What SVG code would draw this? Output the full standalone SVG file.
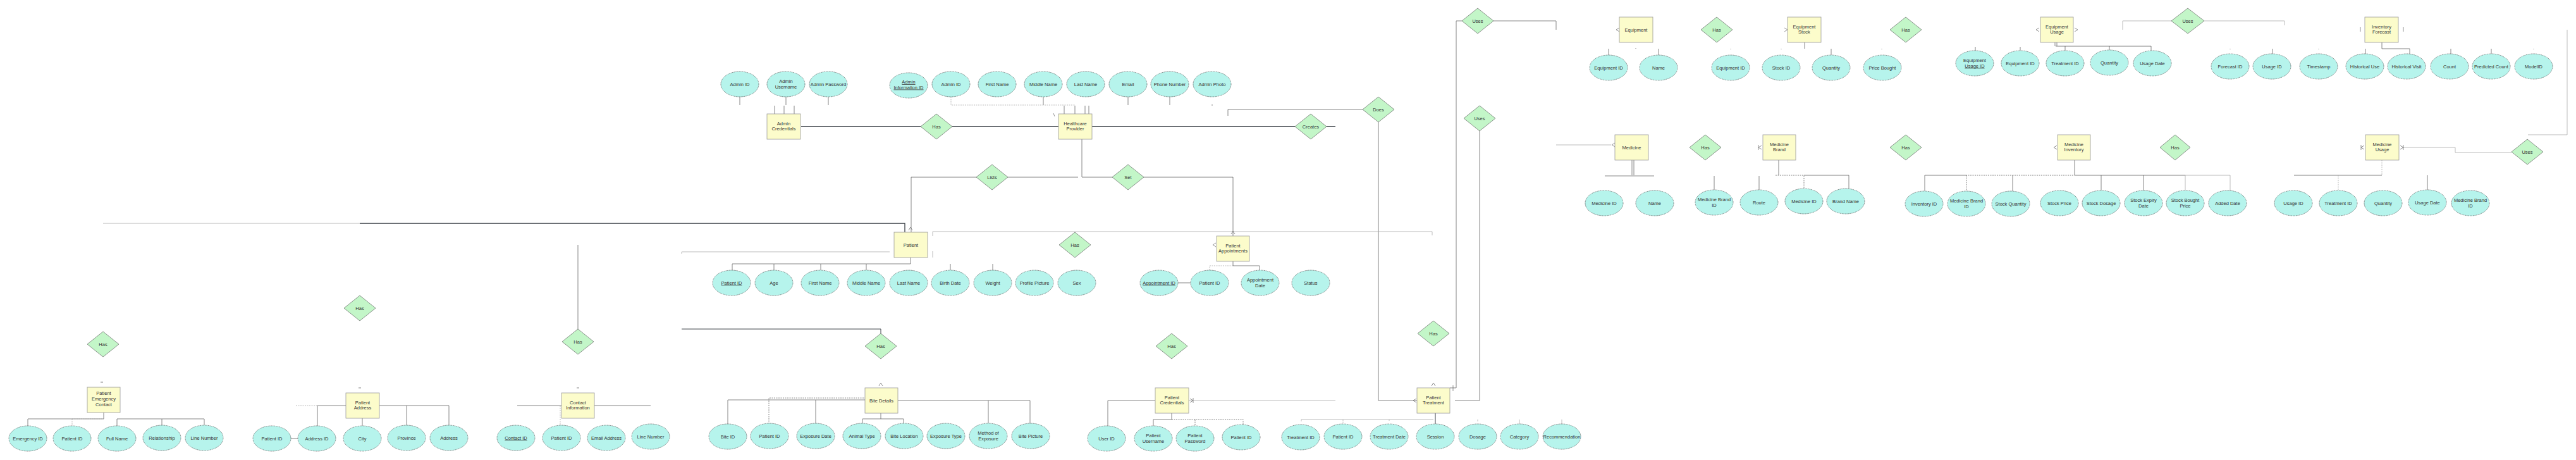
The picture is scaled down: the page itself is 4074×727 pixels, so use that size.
<svg xmlns="http://www.w3.org/2000/svg" width="4074" height="727" viewBox="0 0 4074 727">
<style>
text{font-family:"Liberation Sans",Arial,sans-serif;font-size:7.5px;fill:#333;text-anchor:middle}
.attr ellipse{fill:#b6f4ec;stroke:#555;stroke-width:0.7;stroke-dasharray:1.6 1}
.ent rect{fill:#fcfccb;stroke:#999;stroke-width:0.8}
.rel polygon{fill:#c3f6c8;stroke:#666;stroke-width:0.7}
.ul{text-decoration:underline}
.ln{stroke:#666;stroke-width:0.8;fill:none}
.lnl{stroke:#aaa;stroke-width:0.8;fill:none}
.lnd{stroke:#3d4248;stroke-width:1.3;fill:none}
.ds{stroke-dasharray:2 1.5}
.mk{stroke:#666;stroke-width:0.7;fill:none}
</style>
<rect width="4074" height="727" fill="#fff"/>

<g id="connectors">
<!-- Admin / Healthcare provider -->
<path class="lnd" d="M1267 200H1456M1506 200H1674M1727 200H2048M2098 200H2112"/>
<path class="ln" d="M1170 153V166M1243 153V166M1310 153V166M1650 153V166M1784 153V166M1850 153V166M1917 165V167"/>
<path class="lnl ds" d="M1504 153V166H1700"/>
<path class="ln" d="M1225 167V180M1240 167V180M1256 167V180M1683 167V180M1700 167V180M1716 167V180M1722 167V180"/>
<path class="ln" d="M1711 220V280H1759M1594 280H1705M1544 280H1441V367M1809 280H1950V373"/>
<path class="ln" d="M2155 173H1942V183M2180 193V633H2241"/>
<path class="ln" d="M2312 33H2303V613H2293M2362 33H2461V47"/>
<path class="ln" d="M2340 207V633H2301"/>
<path class="lnl" d="M2461 229H2548"/>
<!-- patient area -->
<path class="lnl" d="M163 353H569"/>
<path class="lnd" d="M569 353H1431V367"/>
<path class="lnl" d="M1078 401V398H1407"/>
<path class="lnd" style="stroke-width:1" d="M1078 520H1393V528"/>
<path class="ln" d="M914 387V521"/>
<path class="lnl" d="M1475 373V366H2265V372M1475 397V407"/>
<path class="ln" d="M1440 407V417H1158M1158 417V427M1224 417V427M1298 417V427M1370 417V427M1503 417V427M1570 417V427"/>
<path class="ln" d="M1950 413V420H1992V427M1863 447H1883"/>
<path class="lnl ds" d="M1950 420H1913V427"/>
<!-- bottom entities -->
<path class="ln" d="M164 652V662H44V673M185 662V673M256 662V673M323 662H185M323 662V673"/>
<path class="lnl ds" d="M114 662H164M114 662V673"/>
<path class="lnl ds" d="M468 641H502"/>
<path class="ln" d="M502 641H547M502 641V673M573 660V673M600 641H710M643 641V673M710 641V673M460 693H471"/>
<path class="ln" d="M818 641H888M940 641H1029"/>
<path class="lnl ds" d="M886 641V672"/>
<path class="ln" d="M1151 670V632H1368M1290 632V670M1420 633H1629M1563 633V670M1629 633V670M1393 653V662M1364 662H1429M1364 662V670M1429 662V670"/>
<path class="ln ds" d="M1216 670V629H1368"/>
<path class="ln" d="M1827 633H1752V673M1853 653V663H1824V673"/>
<path class="ln ds" d="M1853 663H1966V673M1890 663V673"/>
<path class="lnl" d="M1880 633H2112"/>
<path class="lnd" style="stroke-width:1" d="M2270 653V670"/>
<path class="lnl" d="M2058 663H2267M2058 663V666M2197 663V665M2337 663V666M2403 663V670M2470 663V670"/>
<path class="lnl ds" d="M2124 663V670"/>
<path class="ln" d="M159 604H163M567 613H571M912 613H916"/>
<!-- equipment -->
<path class="ln" d="M2544 77V87M2623 77V87M2587 76V77"/>
<path class="ln" d="M2854 67V77M2896 77V87M2737 77V78M2817 77V78M2976 77V78"/>
<path class="ln" d="M3250 67V73M3253 67V73M3251 73H3402V80M3266 73V80M3336 73V80M3124 74V80M3195 74V80"/>
<path class="lnl" d="M3357 47V33H3434M3486 33H3613V40"/>
<path class="ln" d="M3767 67V77H3811V86M3594 77V86M3741 77V86M3876 77V86M3940 77V86M3527 77V78M3667 77V78M4007 77V78"/>
<!-- medicine -->
<path class="ln" d="M2581 253V277M2584 253V277M2538 278H2616"/>
<path class="ln" d="M2813 253V277M2853 277H2924V298M2711 278V300M2782 278V300"/>
<path class="ln ds" d="M2808 277H2853V298"/>
<path class="ln" d="M3281 253V277M3044 277H3109M3044 277V302M3183 277V302M3281 277H3456M3323 277V302M3390 277V302"/>
<path class="lnl" d="M3456 277H3527V302M3456 277V302"/>
<path class="ln ds" d="M3109 277H3281M3110 277V302"/>
<path class="ln" d="M3628 277H3767M3839 277V300"/>
<path class="lnl ds" d="M3767 253V277M3698 277V301"/>
<path class="lnl" d="M3799 233H3883V241H3972M3998 213H4060V47"/>
<!-- markers -->
<path class="mk" d="M1437 364L1440 359L1443 364M1947 370L1950 365L1953 370M1923 384L1918 387L1923 390M2561 44L2556 47L2561 50M2554 226L2549 229L2554 232M2822 44L2827 47L2822 50M3225 44L3220 47L3225 50M3281 44L3286 47L3281 50M3733 43V50M3801 43V50M3253 230L3248 233L3253 236M2786 230L2781 233L2786 236M2781 229V237M3739 230L3734 233L3739 236M3734 229V237M3796 230L3801 233L3796 236M3801 229V237M1882 630L1887 633L1882 636M1887 629V637M2240 630L2235 633L2240 636M2298 609V618M1390 610L1393 605L1396 610M2264 610L2267 605L2270 610M1666 179L1668 184"/>
</g>

<g id="relationships">
<g id="r-has-admin" class="rel"><polygon points="1481,180 1506,200 1481,220 1456,200"/><text x="1481" y="202.5">Has</text></g>
<g id="r-creates" class="rel"><polygon points="2073,180 2098,200 2073,220 2048,200"/><text x="2073" y="202.5">Creates</text></g>
<g id="r-does" class="rel"><polygon points="2180,153 2205,173 2180,193 2155,173"/><text x="2180" y="175.5">Does</text></g>
<g id="r-uses1" class="rel"><polygon points="2337,13 2362,33 2337,53 2312,33"/><text x="2337" y="35.5">Uses</text></g>
<g id="r-uses2" class="rel"><polygon points="2340,167 2365,187 2340,207 2315,187"/><text x="2340" y="189.5">Uses</text></g>
<g id="r-lists" class="rel"><polygon points="1569,260 1594,280 1569,300 1544,280"/><text x="1569" y="282.5">Lists</text></g>
<g id="r-set" class="rel"><polygon points="1784,260 1809,280 1784,300 1759,280"/><text x="1784" y="282.5">Set</text></g>
<g id="r-has-pat" class="rel"><polygon points="1700,367 1725,387 1700,407 1675,387"/><text x="1700" y="389.5">Has</text></g>
<g id="r-has-treat" class="rel"><polygon points="2267,507 2292,527 2267,547 2242,527"/><text x="2267" y="529.5">Has</text></g>
<g id="r-has-cred" class="rel"><polygon points="1853,527 1878,547 1853,567 1828,547"/><text x="1853" y="549.5">Has</text></g>
<g id="r-has-bite" class="rel"><polygon points="1393,527 1418,547 1393,567 1368,547"/><text x="1393" y="549.5">Has</text></g>
<g id="r-has-emerg" class="rel"><polygon points="163,524 188,544 163,564 138,544"/><text x="163" y="546.5">Has</text></g>
<g id="r-has-addr" class="rel"><polygon points="569,467 594,487 569,507 544,487"/><text x="569" y="489.5">Has</text></g>
<g id="r-has-contact" class="rel"><polygon points="914,520 939,540 914,560 889,540"/><text x="914" y="542.5">Has</text></g>
<g id="r-has-eq" class="rel"><polygon points="2715,27 2740,47 2715,67 2690,47"/><text x="2715" y="49.5">Has</text></g>
<g id="r-has-eqs" class="rel"><polygon points="3014,27 3039,47 3014,67 2989,47"/><text x="3014" y="49.5">Has</text></g>
<g id="r-uses3" class="rel"><polygon points="3460,13 3486,33 3460,53 3434,33"/><text x="3460" y="35.5">Uses</text></g>
<g id="r-has-med" class="rel"><polygon points="2697,213 2722,233 2697,253 2672,233"/><text x="2697" y="235.5">Has</text></g>
<g id="r-has-brand" class="rel"><polygon points="3014,213 3039,233 3014,253 2989,233"/><text x="3014" y="235.5">Has</text></g>
<g id="r-has-inv" class="rel"><polygon points="3440,213 3464,233 3440,253 3416,233"/><text x="3440" y="235.5">Has</text></g>
<g id="r-uses4" class="rel"><polygon points="3997,220 4022,240 3997,260 3972,240"/><text x="3997" y="242.5">Uses</text></g>
</g>

<g id="entities">
<g id="e-admin-cred" class="ent"><rect x="1213" y="180" width="53" height="40"/><text x="1239.5" y="197.5">Admin</text><text x="1239.5" y="206">Credentials</text></g>
<g id="e-healthcare" class="ent"><rect x="1674" y="180" width="53" height="40"/><text x="1700.5" y="197.5">Healthcare</text><text x="1700.5" y="206">Provider</text></g>
<g id="e-patient" class="ent"><rect x="1414" y="367" width="53" height="40"/><text x="1440.5" y="389.5">Patient</text></g>
<g id="e-appointments" class="ent"><rect x="1924" y="373" width="52" height="40"/><text x="1950" y="390.5">Patient</text><text x="1950" y="399">Appointments</text></g>
<g id="e-emergency" class="ent"><rect x="138" y="612" width="52" height="40"/><text x="164" y="624">Patient</text><text x="164" y="633">Emergency</text><text x="164" y="642">Contact</text></g>
<g id="e-address" class="ent"><rect x="547" y="621" width="53" height="40"/><text x="573.5" y="638.5">Patient</text><text x="573.5" y="647">Address</text></g>
<g id="e-contact" class="ent"><rect x="888" y="621" width="52" height="40"/><text x="914" y="638.5">Contact</text><text x="914" y="647">Information</text></g>
<g id="e-bite" class="ent"><rect x="1368" y="613" width="52" height="40"/><text x="1394" y="635.5">Bite Details</text></g>
<g id="e-pcred" class="ent"><rect x="1827" y="613" width="53" height="40"/><text x="1853.5" y="630.5">Patient</text><text x="1853.5" y="639">Credentials</text></g>
<g id="e-treatment" class="ent"><rect x="2241" y="613" width="52" height="40"/><text x="2267" y="630.5">Patient</text><text x="2267" y="639">Treatment</text></g>
<g id="e-equipment" class="ent"><rect x="2561" y="27" width="53" height="40"/><text x="2587.5" y="49.5">Equipment</text></g>
<g id="e-medicine" class="ent"><rect x="2554" y="213" width="53" height="40"/><text x="2580.5" y="235.5">Medicine</text></g>
<g id="e-eqstock" class="ent"><rect x="2827" y="27" width="53" height="40"/><text x="2853.5" y="44.5">Equipment</text><text x="2853.5" y="53">Stock</text></g>
<g id="e-equsage" class="ent"><rect x="3227" y="27" width="52" height="40"/><text x="3253" y="44.5">Equipment</text><text x="3253" y="53">Usage</text></g>
<g id="e-forecast" class="ent"><rect x="3740" y="27" width="53" height="40"/><text x="3766.5" y="44.5">Inventory</text><text x="3766.5" y="53">Forecast</text></g>
<g id="e-brand" class="ent"><rect x="2788" y="213" width="52" height="40"/><text x="2814" y="230.5">Medicine</text><text x="2814" y="239">Brand</text></g>
<g id="e-inventory" class="ent"><rect x="3254" y="213" width="52" height="40"/><text x="3280" y="230.5">Medicine</text><text x="3280" y="239">Inventory</text></g>
<g id="e-medusage" class="ent"><rect x="3741" y="213" width="53" height="40"/><text x="3767.5" y="230.5">Medicine</text><text x="3767.5" y="239">Usage</text></g>
</g>

<g id="attributes">
<!-- admin credentials -->
<g id="a-ac-id" class="attr"><ellipse cx="1170" cy="133" rx="30" ry="20"/><text x="1170" y="135.5">Admin ID</text></g>
<g id="a-ac-user" class="attr"><ellipse cx="1243" cy="133" rx="30" ry="20"/><text x="1243" y="131">Admin</text><text x="1243" y="139.5">Username</text></g>
<g id="a-ac-pass" class="attr"><ellipse cx="1310" cy="133" rx="30" ry="20"/><text x="1310" y="135.5">Admin Password</text></g>
<!-- healthcare provider -->
<g id="a-hp-infoid" class="attr"><ellipse cx="1437" cy="135" rx="30" ry="20"/><text class="ul" x="1437" y="132">Admin</text><text class="ul" x="1437" y="140.5">Information ID</text></g>
<g id="a-hp-adminid" class="attr"><ellipse cx="1504" cy="133" rx="30" ry="20"/><text x="1504" y="135.5">Admin ID</text></g>
<g id="a-hp-first" class="attr"><ellipse cx="1577" cy="133" rx="30" ry="20"/><text x="1577" y="135.5">First Name</text></g>
<g id="a-hp-middle" class="attr"><ellipse cx="1650" cy="133" rx="30" ry="20"/><text x="1650" y="135.5">Middle Name</text></g>
<g id="a-hp-last" class="attr"><ellipse cx="1717" cy="133" rx="30" ry="20"/><text x="1717" y="135.5">Last Name</text></g>
<g id="a-hp-email" class="attr"><ellipse cx="1784" cy="133" rx="30" ry="20"/><text x="1784" y="135.5">Email</text></g>
<g id="a-hp-phone" class="attr"><ellipse cx="1850" cy="133" rx="30" ry="20"/><text x="1850" y="135.5">Phone Number</text></g>
<g id="a-hp-photo" class="attr"><ellipse cx="1917" cy="133" rx="30" ry="20"/><text x="1917" y="135.5">Admin Photo</text></g>
<!-- equipment -->
<g id="a-eq-id" class="attr"><ellipse cx="2544" cy="107" rx="30" ry="20"/><text x="2544" y="109.5">Equipment ID</text></g>
<g id="a-eq-name" class="attr"><ellipse cx="2623" cy="107" rx="30" ry="20"/><text x="2623" y="109.5">Name</text></g>
<!-- equipment stock -->
<g id="a-es-eqid" class="attr"><ellipse cx="2737" cy="107" rx="30" ry="20"/><text x="2737" y="109.5">Equipment ID</text></g>
<g id="a-es-stock" class="attr"><ellipse cx="2817" cy="107" rx="30" ry="20"/><text x="2817" y="109.5">Stock ID</text></g>
<g id="a-es-qty" class="attr"><ellipse cx="2896" cy="107" rx="30" ry="20"/><text x="2896" y="109.5">Quantity</text></g>
<g id="a-es-price" class="attr"><ellipse cx="2977" cy="107" rx="30" ry="20"/><text x="2977" y="109.5">Price Bought</text></g>
<!-- equipment usage -->
<g id="a-eu-id" class="attr"><ellipse cx="3123" cy="100" rx="30" ry="20"/><text x="3123" y="98">Equipment</text><text class="ul" x="3123" y="106.5">Usage ID</text></g>
<g id="a-eu-eqid" class="attr"><ellipse cx="3195" cy="100" rx="30" ry="20"/><text x="3195" y="102.5">Equipment ID</text></g>
<g id="a-eu-treat" class="attr"><ellipse cx="3266" cy="100" rx="30" ry="20"/><text x="3266" y="102.5">Treatment ID</text></g>
<g id="a-eu-qty" class="attr"><ellipse cx="3336" cy="99" rx="30" ry="20"/><text x="3336" y="101.5">Quantity</text></g>
<g id="a-eu-date" class="attr"><ellipse cx="3404" cy="100" rx="30" ry="20"/><text x="3404" y="102.5">Usage Date</text></g>
<!-- inventory forecast -->
<g id="a-if-id" class="attr"><ellipse cx="3527" cy="105" rx="30" ry="20"/><text x="3527" y="107.5">Forecast ID</text></g>
<g id="a-if-usage" class="attr"><ellipse cx="3593" cy="105" rx="30" ry="20"/><text x="3593" y="107.5">Usage ID</text></g>
<g id="a-if-ts" class="attr"><ellipse cx="3667" cy="105" rx="30" ry="20"/><text x="3667" y="107.5">Timestamp</text></g>
<g id="a-if-huse" class="attr"><ellipse cx="3740" cy="105" rx="30" ry="20"/><text x="3740" y="107.5">Historical Use</text></g>
<g id="a-if-hvisit" class="attr"><ellipse cx="3806" cy="105" rx="30" ry="20"/><text x="3806" y="107.5">Historical Visit</text></g>
<g id="a-if-count" class="attr"><ellipse cx="3874" cy="105" rx="30" ry="20"/><text x="3874" y="107.5">Count</text></g>
<g id="a-if-pred" class="attr"><ellipse cx="3940" cy="105" rx="30" ry="20"/><text x="3940" y="107.5">Predicted Count</text></g>
<g id="a-if-model" class="attr"><ellipse cx="4007" cy="105" rx="30" ry="20"/><text x="4007" y="107.5">ModelID</text></g>
<!-- medicine -->
<g id="a-m-id" class="attr"><ellipse cx="2537" cy="321" rx="30" ry="20"/><text x="2537" y="323.5">Medicine ID</text></g>
<g id="a-m-name" class="attr"><ellipse cx="2617" cy="321" rx="30" ry="20"/><text x="2617" y="323.5">Name</text></g>
<!-- medicine brand -->
<g id="a-mb-id" class="attr"><ellipse cx="2711" cy="320" rx="30" ry="20"/><text x="2711" y="318">Medicine Brand</text><text x="2711" y="326.5">ID</text></g>
<g id="a-mb-route" class="attr"><ellipse cx="2782" cy="320" rx="30" ry="20"/><text x="2782" y="322.5">Route</text></g>
<g id="a-mb-medid" class="attr"><ellipse cx="2853" cy="318" rx="30" ry="20"/><text x="2853" y="320.5">Medicine ID</text></g>
<g id="a-mb-name" class="attr"><ellipse cx="2919" cy="318" rx="30" ry="20"/><text x="2919" y="320.5">Brand Name</text></g>
<!-- medicine inventory -->
<g id="a-mi-id" class="attr"><ellipse cx="3043" cy="322" rx="30" ry="20"/><text x="3043" y="324.5">Inventory ID</text></g>
<g id="a-mi-brand" class="attr"><ellipse cx="3110" cy="322" rx="30" ry="20"/><text x="3110" y="320">Medicine Brand</text><text x="3110" y="328.5">ID</text></g>
<g id="a-mi-qty" class="attr"><ellipse cx="3180" cy="322" rx="30" ry="20"/><text x="3180" y="324.5">Stock Quantity</text></g>
<g id="a-mi-price" class="attr"><ellipse cx="3257" cy="321" rx="30" ry="20"/><text x="3257" y="323.5">Stock Price</text></g>
<g id="a-mi-dosage" class="attr"><ellipse cx="3323" cy="321" rx="30" ry="20"/><text x="3323" y="323.5">Stock Dosage</text></g>
<g id="a-mi-expiry" class="attr"><ellipse cx="3390" cy="321" rx="30" ry="20"/><text x="3390" y="319">Stock Expiry</text><text x="3390" y="327.5">Date</text></g>
<g id="a-mi-bought" class="attr"><ellipse cx="3456" cy="321" rx="30" ry="20"/><text x="3456" y="319">Stock Bought</text><text x="3456" y="327.5">Price</text></g>
<g id="a-mi-added" class="attr"><ellipse cx="3523" cy="321" rx="30" ry="20"/><text x="3523" y="323.5">Added Date</text></g>
<!-- medicine usage -->
<g id="a-mu-id" class="attr"><ellipse cx="3627" cy="321" rx="30" ry="20"/><text x="3627" y="323.5">Usage ID</text></g>
<g id="a-mu-treat" class="attr"><ellipse cx="3698" cy="321" rx="30" ry="20"/><text x="3698" y="323.5">Treatment ID</text></g>
<g id="a-mu-qty" class="attr"><ellipse cx="3769" cy="321" rx="30" ry="20"/><text x="3769" y="323.5">Quantity</text></g>
<g id="a-mu-date" class="attr"><ellipse cx="3839" cy="320" rx="30" ry="20"/><text x="3839" y="322.5">Usage Date</text></g>
<g id="a-mu-brand" class="attr"><ellipse cx="3907" cy="321" rx="30" ry="20"/><text x="3907" y="319">Medicine Brand</text><text x="3907" y="327.5">ID</text></g>
<!-- patient -->
<g id="a-p-id" class="attr"><ellipse cx="1157" cy="447" rx="30" ry="20"/><text class="ul" x="1157" y="449.5">Patient ID</text></g>
<g id="a-p-age" class="attr"><ellipse cx="1224" cy="447" rx="30" ry="20"/><text x="1224" y="449.5">Age</text></g>
<g id="a-p-first" class="attr"><ellipse cx="1297" cy="447" rx="30" ry="20"/><text x="1297" y="449.5">First Name</text></g>
<g id="a-p-middle" class="attr"><ellipse cx="1370" cy="447" rx="30" ry="20"/><text x="1370" y="449.5">Middle Name</text></g>
<g id="a-p-last" class="attr"><ellipse cx="1437" cy="447" rx="30" ry="20"/><text x="1437" y="449.5">Last Name</text></g>
<g id="a-p-birth" class="attr"><ellipse cx="1503" cy="447" rx="30" ry="20"/><text x="1503" y="449.5">Birth Date</text></g>
<g id="a-p-weight" class="attr"><ellipse cx="1570" cy="447" rx="30" ry="20"/><text x="1570" y="449.5">Weight</text></g>
<g id="a-p-pic" class="attr"><ellipse cx="1636" cy="447" rx="30" ry="20"/><text x="1636" y="449.5">Profile Picture</text></g>
<g id="a-p-sex" class="attr"><ellipse cx="1703" cy="447" rx="30" ry="20"/><text x="1703" y="449.5">Sex</text></g>
<!-- appointments -->
<g id="a-pa-id" class="attr"><ellipse cx="1833" cy="447" rx="30" ry="20"/><text class="ul" x="1833" y="449.5">Appointment ID</text></g>
<g id="a-pa-pid" class="attr"><ellipse cx="1913" cy="447" rx="30" ry="20"/><text x="1913" y="449.5">Patient ID</text></g>
<g id="a-pa-date" class="attr"><ellipse cx="1993" cy="447" rx="30" ry="20"/><text x="1993" y="445">Appointment</text><text x="1993" y="453.5">Date</text></g>
<g id="a-pa-status" class="attr"><ellipse cx="2073" cy="447" rx="30" ry="20"/><text x="2073" y="449.5">Status</text></g>
<!-- emergency contact -->
<g id="a-ec-id" class="attr"><ellipse cx="44" cy="693" rx="30" ry="20"/><text x="44" y="695.5">Emergency ID</text></g>
<g id="a-ec-pid" class="attr"><ellipse cx="114" cy="693" rx="30" ry="20"/><text x="114" y="695.5">Patient ID</text></g>
<g id="a-ec-name" class="attr"><ellipse cx="185" cy="693" rx="30" ry="20"/><text x="185" y="695.5">Full Name</text></g>
<g id="a-ec-rel" class="attr"><ellipse cx="256" cy="692" rx="30" ry="20"/><text x="256" y="694.5">Relationship</text></g>
<g id="a-ec-line" class="attr"><ellipse cx="323" cy="692" rx="30" ry="20"/><text x="323" y="694.5">Line Number</text></g>
<!-- address -->
<g id="a-ad-pid" class="attr"><ellipse cx="430" cy="693" rx="30" ry="20"/><text x="430" y="695.5">Patient ID</text></g>
<g id="a-ad-id" class="attr"><ellipse cx="501" cy="693" rx="30" ry="20"/><text x="501" y="695.5">Address ID</text></g>
<g id="a-ad-city" class="attr"><ellipse cx="573" cy="693" rx="30" ry="20"/><text x="573" y="695.5">City</text></g>
<g id="a-ad-prov" class="attr"><ellipse cx="643" cy="692" rx="30" ry="20"/><text x="643" y="694.5">Province</text></g>
<g id="a-ad-addr" class="attr"><ellipse cx="710" cy="692" rx="30" ry="20"/><text x="710" y="694.5">Address</text></g>
<!-- contact information -->
<g id="a-ci-id" class="attr"><ellipse cx="816" cy="692" rx="30" ry="20"/><text class="ul" x="816" y="694.5">Contact ID</text></g>
<g id="a-ci-pid" class="attr"><ellipse cx="888" cy="692" rx="30" ry="20"/><text x="888" y="694.5">Patient ID</text></g>
<g id="a-ci-email" class="attr"><ellipse cx="959" cy="692" rx="30" ry="20"/><text x="959" y="694.5">Email Address</text></g>
<g id="a-ci-line" class="attr"><ellipse cx="1029" cy="690" rx="30" ry="20"/><text x="1029" y="692.5">Line Number</text></g>
<!-- bite details -->
<g id="a-b-id" class="attr"><ellipse cx="1151" cy="690" rx="30" ry="20"/><text x="1151" y="692.5">Bite ID</text></g>
<g id="a-b-pid" class="attr"><ellipse cx="1217" cy="689" rx="30" ry="20"/><text x="1217" y="691.5">Patient ID</text></g>
<g id="a-b-date" class="attr"><ellipse cx="1290" cy="689" rx="30" ry="20"/><text x="1290" y="691.5">Exposure Date</text></g>
<g id="a-b-animal" class="attr"><ellipse cx="1363" cy="689" rx="30" ry="20"/><text x="1363" y="691.5">Animal Type</text></g>
<g id="a-b-loc" class="attr"><ellipse cx="1430" cy="689" rx="30" ry="20"/><text x="1430" y="691.5">Bite Location</text></g>
<g id="a-b-type" class="attr"><ellipse cx="1496" cy="689" rx="30" ry="20"/><text x="1496" y="691.5">Exposure Type</text></g>
<g id="a-b-method" class="attr"><ellipse cx="1563" cy="689" rx="30" ry="20"/><text x="1563" y="687">Method of</text><text x="1563" y="695.5">Exposure</text></g>
<g id="a-b-pic" class="attr"><ellipse cx="1630" cy="689" rx="30" ry="20"/><text x="1630" y="691.5">Bite Picture</text></g>
<!-- patient credentials -->
<g id="a-pc-uid" class="attr"><ellipse cx="1750" cy="693" rx="30" ry="20"/><text x="1750" y="695.5">User ID</text></g>
<g id="a-pc-user" class="attr"><ellipse cx="1824" cy="693" rx="30" ry="20"/><text x="1824" y="691">Patient</text><text x="1824" y="699.5">Username</text></g>
<g id="a-pc-pass" class="attr"><ellipse cx="1890" cy="693" rx="30" ry="20"/><text x="1890" y="691">Patient</text><text x="1890" y="699.5">Password</text></g>
<g id="a-pc-pid" class="attr"><ellipse cx="1963" cy="691" rx="30" ry="20"/><text x="1963" y="693.5">Patient ID</text></g>
<!-- patient treatment -->
<g id="a-pt-id" class="attr"><ellipse cx="2057" cy="691" rx="30" ry="20"/><text x="2057" y="693.5">Treatment ID</text></g>
<g id="a-pt-pid" class="attr"><ellipse cx="2124" cy="690" rx="30" ry="20"/><text x="2124" y="692.5">Patient ID</text></g>
<g id="a-pt-date" class="attr"><ellipse cx="2197" cy="690" rx="30" ry="20"/><text x="2197" y="692.5">Treatment Date</text></g>
<g id="a-pt-session" class="attr"><ellipse cx="2270" cy="690" rx="30" ry="20"/><text x="2270" y="692.5">Session</text></g>
<g id="a-pt-dosage" class="attr"><ellipse cx="2337" cy="690" rx="30" ry="20"/><text x="2337" y="692.5">Dosage</text></g>
<g id="a-pt-cat" class="attr"><ellipse cx="2403" cy="690" rx="30" ry="20"/><text x="2403" y="692.5">Category</text></g>
<g id="a-pt-rec" class="attr"><ellipse cx="2470" cy="690" rx="30" ry="20"/><text x="2470" y="692.5">Recommendation</text></g>
</g>
</svg>
